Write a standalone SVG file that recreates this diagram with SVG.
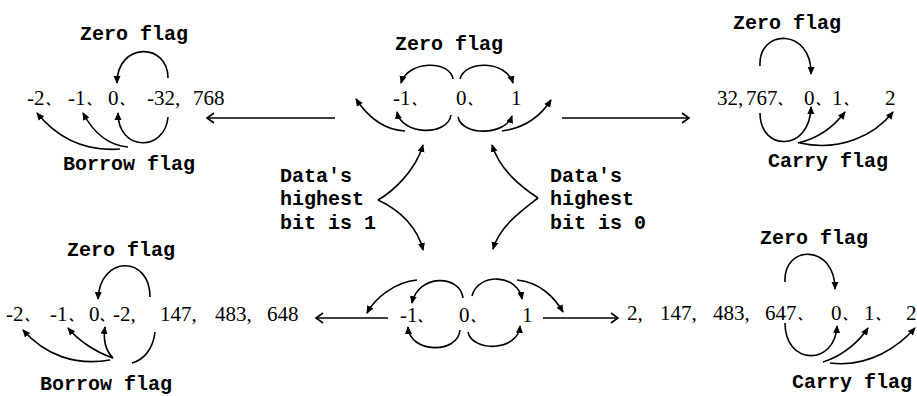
<svg xmlns="http://www.w3.org/2000/svg" width="917" height="396" viewBox="0 0 917 396">
<style>
.lbl{font-family:"Liberation Mono","DejaVu Sans Mono",monospace;font-size:20px;font-weight:bold;fill:#000}
.num{font-family:"Liberation Serif","Noto Sans CJK SC",serif;font-size:21px;fill:#000}
.d{font-family:"Noto Sans CJK SC","Noto Sans CJK JP",sans-serif;font-size:12px;font-weight:bold}
.c{fill:none;stroke:#000;stroke-width:1.6}
.ca{fill:none;stroke:#000;stroke-width:1.6;marker-end:url(#ah)}
.h{fill:none;stroke:#000;stroke-width:1.6;marker-end:url(#oh)}
</style>
<defs>
<marker id="ah" markerWidth="9" markerHeight="9" refX="7" refY="4.5" orient="auto" markerUnits="userSpaceOnUse"><path d="M0,1 L8,4.5 L0,8 z" fill="#000"/></marker>
<marker id="oh" markerWidth="12" markerHeight="12" refX="9" refY="6" orient="auto" markerUnits="userSpaceOnUse"><path d="M2,1 L9,6 L2,11" fill="none" stroke="#000" stroke-width="1.6"/></marker>
</defs>
<rect width="917" height="396" fill="#fff"/>

<g id="top-left">
<text class="lbl" x="80" y="40">Zero flag</text>
<text class="num" y="105"><tspan x="27">-2</tspan><tspan class="d" x="46">、</tspan><tspan x="68">-1</tspan><tspan class="d" x="87">、</tspan><tspan x="108">0</tspan><tspan class="d" x="120">、</tspan><tspan x="147">-32,</tspan><tspan x="193">768</tspan></text>
<text class="lbl" x="63" y="170">Borrow flag</text>
</g>

<g id="top-center">
<text class="lbl" x="395" y="50">Zero flag</text>
<text class="num" y="105"><tspan x="393">-1</tspan><tspan class="d" x="412">、</tspan><tspan x="456">0</tspan><tspan class="d" x="468">、</tspan><tspan x="511">1</tspan></text>
</g>

<g id="top-right">
<text class="lbl" x="733" y="29">Zero flag</text>
<text class="num" y="105"><tspan x="717">32,</tspan><tspan x="746">767</tspan><tspan class="d" x="778">、</tspan><tspan x="804">0</tspan><tspan class="d" x="816">、</tspan><tspan x="832">1</tspan><tspan class="d" x="844">、</tspan><tspan x="885">2</tspan></text>
<text class="lbl" x="768" y="167">Carry flag</text>
</g>

<g id="cond-left">
<text class="lbl" x="280" y="182">Data's</text>
<text class="lbl" x="280" y="205">highest</text>
<text class="lbl" x="280" y="229">bit is 1</text>
</g>

<g id="cond-right">
<text class="lbl" x="550" y="182">Data's</text>
<text class="lbl" x="550" y="205">highest</text>
<text class="lbl" x="550" y="229">bit is 0</text>
</g>

<g id="bottom-left">
<text class="lbl" x="67" y="256">Zero flag</text>
<text class="num" y="321"><tspan x="6">-2</tspan><tspan class="d" x="25">、</tspan><tspan x="50">-1</tspan><tspan class="d" x="69">、</tspan><tspan x="89">0</tspan><tspan class="d" x="100">、</tspan><tspan x="113">-2,</tspan><tspan x="160">147,</tspan><tspan x="215">483,</tspan><tspan x="267">648</tspan></text>
<text class="lbl" x="40" y="390">Borrow flag</text>
</g>

<g id="bottom-center">
<text class="num" y="322"><tspan x="400">-1</tspan><tspan class="d" x="418">、</tspan><tspan x="459">0</tspan><tspan class="d" x="471">、</tspan><tspan x="522">1</tspan></text>
</g>

<g id="bottom-right">
<text class="lbl" x="760" y="244">Zero flag</text>
<text class="num" y="320"><tspan x="627">2,</tspan><tspan x="660">147,</tspan><tspan x="713">483,</tspan><tspan x="765">647</tspan><tspan class="d" x="798">、</tspan><tspan x="831">0</tspan><tspan class="d" x="843">、</tspan><tspan x="864">1</tspan><tspan class="d" x="876">、</tspan><tspan x="906">2</tspan></text>
<text class="lbl" x="792" y="388">Carry flag</text>
</g>

<g id="connectors">
<!-- top-left -->
<path class="ca" d="M168,78 C168,42 117,42 117,83"/>
<path class="ca" d="M168,117 C165,152 118,152 118,113"/>
<path class="ca" d="M128,147 C105,145 92,130 83,113"/>
<path class="ca" d="M120,149 C80,152 55,135 37,113"/>
<!-- top-center -->
<path class="ca" d="M453,79 C450,60 408,60 401,83"/>
<path class="ca" d="M451,115 C448,136 402,136 397,112"/>
<path class="ca" d="M460,79 C465,60 506,60 513,83"/>
<path class="ca" d="M458,117 C462,136 505,136 512,116"/>
<path class="ca" d="M405,131 C385,130 368,117 356,99"/>
<path class="ca" d="M502,131 C525,128 540,117 551,100"/>
<!-- top-right -->
<path class="ca" d="M760,66 C758,28 812,28 811,74"/>
<path class="ca" d="M760,113 C760,152 810,152 811,107"/>
<path class="ca" d="M798,143 C820,138 835,125 845,112"/>
<path class="ca" d="M800,143 C840,152 875,135 893,112"/>
<!-- horizontal arrows -->
<path class="h" d="M335,118 L207,118"/>
<path class="h" d="M562,118 L689,118"/>
<path class="h" d="M388,318 L316,318"/>
<path class="h" d="M543,318 L618,318"/>
<!-- middle conditions -->
<path class="ca" d="M378,200 C392,192 415,172 423,145"/>
<path class="ca" d="M378,200 C400,210 418,228 423,250"/>
<path class="ca" d="M538,198 C520,186 500,170 492,145"/>
<path class="ca" d="M538,198 C520,212 500,226 493,249"/>
<!-- bottom-center -->
<path class="ca" d="M463,298 C460,274 418,274 412,303"/>
<path class="ca" d="M460,330 C458,354 410,354 408,327"/>
<path class="ca" d="M472,296 C478,272 518,274 522,299"/>
<path class="ca" d="M468,332 C472,352 518,352 520,326"/>
<path class="ca" d="M417,280 C395,282 375,298 367,313"/>
<path class="ca" d="M517,280 C540,282 555,298 563,312"/>
<!-- bottom-left -->
<path class="ca" d="M150,297 C150,255 100,255 98,299"/>
<path class="c" d="M155,332 C153,350 143,360 132,363"/>
<path class="ca" d="M113,358 C105,350 103,340 105,327"/>
<path class="ca" d="M113,358 C95,352 78,340 68,328"/>
<path class="ca" d="M110,360 C75,366 45,355 23,330"/>
<!-- bottom-right -->
<path class="ca" d="M785,282 C783,244 835,244 835,289"/>
<path class="ca" d="M785,323 C785,366 835,366 837,326"/>
<path class="ca" d="M823,362 C845,355 860,340 868,328"/>
<path class="ca" d="M830,363 C870,368 900,345 915,328"/>
</g>
</svg>
